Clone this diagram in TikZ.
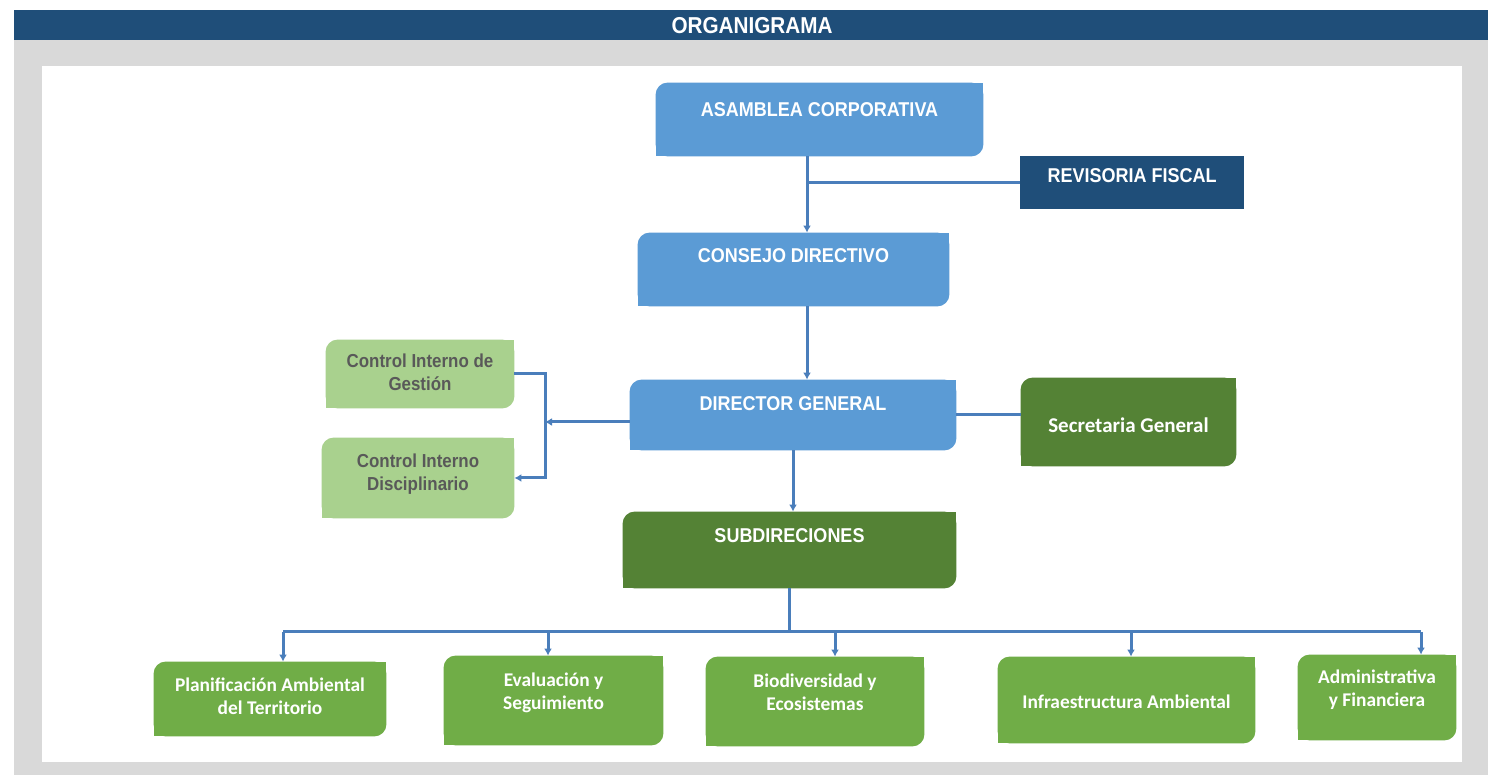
\documentclass[tikz,border=0pt]{standalone}
\usepackage{fontspec}
\usepackage{tikz}
\usetikzlibrary{arrows.meta,backgrounds}
\newfontfamily\angosta{Liberation Sans}[FakeStretch=0.9]
\newfontfamily\calibri{Carlito}
\definecolor{azulosc}{HTML}{1F4E79}
\definecolor{azulcaja}{HTML}{5B9BD5}
\definecolor{linea}{HTML}{4A7EBB}
\definecolor{verdeosc}{HTML}{548235}
\definecolor{verdemed}{HTML}{70AD47}
\definecolor{verdecla}{HTML}{A9D18E}
\definecolor{grisfondo}{HTML}{D9D9D9}
\definecolor{gristxt}{HTML}{595959}

\begin{document}
\begin{tikzpicture}
%defines
  [x=0.5pt,y=0.5pt,>={Latex[length=3.5pt,width=4pt]},
caja/.style={inner sep=0pt,align=center,text=white},
mayus/.style={caja,font=\angosta\bfseries\fontsize{10}{12}\selectfont,text height=7pt},
minus/.style={caja,font=\calibri\bfseries\fontsize{9.7}{11.5}\selectfont,text height=7pt},
doble/.style={text height=18.5pt},
control/.style={caja,text=gristxt,
font=\angosta\bfseries\fontsize{9.4}{11.5}\selectfont,text height=7pt},
conector/.style={draw=linea,line width=1.5pt}]
\useasboundingbox (0,0) rectangle (1488,775);
%background
\begin{scope}[on background layer]
\fill[white] (0,0) rectangle (1488,775);
\fill[grisfondo] (14,0) rectangle (1488,735);
\fill[azulosc] (14,735) rectangle (1488,765);
\fill[white] (42,13) rectangle (1462,709);
\end{scope}
\node[font=\angosta\bfseries\fontsize{11.5}{13}\selectfont,text=white] (titulo) at (752,749) {ORGANIGRAMA};
%nodes
\node[mayus,minimum width=163.5pt,minimum height=36.5pt,text depth=9.5pt]
  (asamblea) at (819.5,655.5) {ASAMBLEA CORPORATIVA};
\node[mayus,fill=azulosc,minimum width=112pt,minimum height=26.5pt,text depth=6.5pt]
  (revisoria) at (1132,592.5) {REVISORIA FISCAL};
\node[mayus,minimum width=155.5pt,minimum height=36.5pt,text depth=13.5pt]
  (consejo) at (793.5,505.5) {CONSEJO DIRECTIVO};
\node[mayus,minimum width=163pt,minimum height=35pt,text depth=11pt]
  (director) at (793,360) {DIRECTOR GENERAL};
\node[caja,font=\calibri\bfseries\fontsize{10.5}{12}\selectfont,minimum width=107.5pt,minimum height=44pt,
  text height=11pt,text depth=0pt]
  (secretaria) at (1128.5,353) {Secretaria General};
\node[control,doble,minimum width=94pt,minimum height=34pt,text depth=1.5pt]
  (cig) at (420,401) {Control Interno de\\Gestión};
\node[control,doble,minimum width=96pt,minimum height=40pt,text depth=5.5pt]
  (cid) at (418,297) {Control Interno\\Disciplinario};
\node[mayus,minimum width=166.5pt,minimum height=38pt,text depth=14pt]
  (subdir) at (789.5,225) {SUBDIRECIONES};
\node[minus,doble,minimum width=116pt,minimum height=37pt,text depth=2.5pt]
  (planif) at (270,76) {Planificación Ambiental\\del Territorio};
\node[minus,doble,minimum width=109.5pt,minimum height=44.5pt,text depth=9pt]
  (evaluacion) at (553.5,74.5) {Evaluación y\\Seguimiento};
\node[minus,doble,minimum width=109pt,minimum height=44.5pt,text depth=9pt]
  (biodiv) at (815,73.5) {Biodiversidad y\\Ecosistemas};
\node[minus,minimum width=128.5pt,minimum height=43pt,text height=9pt,text depth=0pt]
  (infra) at (1126.5,75) {Infraestructura Ambiental};
\node[minus,doble,minimum width=79pt,minimum height=42.5pt,text depth=9pt]
  (admin) at (1377,77.5) {Administrativa\\y Financiera};
%box fills: rounded box, then square top right and bottom left corners
\begin{scope}[on background layer]
\foreach \n/\c in {asamblea/azulcaja,consejo/azulcaja,director/azulcaja,
  secretaria/verdeosc,subdir/verdeosc,cig/verdecla,cid/verdecla,planif/verdemed,
  evaluacion/verdemed,biodiv/verdemed,infra/verdemed,admin/verdemed}{
  \fill[\c,rounded corners=6pt] (\n.south west) rectangle (\n.north east);
  \fill[\c] (\n.south west) rectangle (\n.center);
  \fill[\c] (\n.center) rectangle (\n.north east);
}
\end{scope}
%links
\coordinate (eje) at (807,0);
\coordinate (llave) at (545,353);
\coordinate (bus) at (0,143);
\draw[conector,->] (asamblea.south -| eje) -- (consejo.north -| eje);
\draw[conector] (revisoria.west) -- (revisoria.west -| eje);
\draw[conector,->] (consejo.south -| eje) -- (director.north -| eje);
\draw[conector] (director.east) -- (director.east -| secretaria.west);
\draw[conector,->] (director.west |- llave) -- (llave);
\draw[conector,->] (cig.east) -- (cig.east -| llave) -- (cid.east -| llave) -- (cid.east);
\draw[conector,->] (director.south) -- (director.south |- subdir.north);
\draw[conector] (subdir.south) -- (subdir.south |- bus);
\foreach \n/\dx in {planif/6.5,evaluacion/-2.75,biodiv/10,infra/2.25,admin/22}{
  \coordinate (baja-\n) at ([xshift=\dx pt]\n.north);
  \draw[conector,->] (baja-\n |- bus) -- (baja-\n);
}
\draw[conector] (baja-planif |- bus) -- (baja-admin |- bus);
\end{tikzpicture}
\end{document}
